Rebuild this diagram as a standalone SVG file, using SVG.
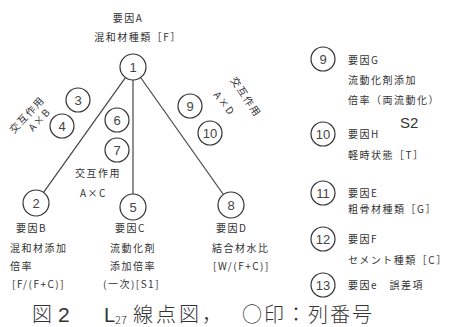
<svg xmlns="http://www.w3.org/2000/svg" width="451" height="327" viewBox="0 0 451 327">
<style>
.n{fill:none;stroke:#333;stroke-width:1.2}
.c{stroke:#444;stroke-width:1.2;fill:none}
.num{font-family:"Liberation Sans",Arial,sans-serif;font-size:13px;fill:#444;text-anchor:middle;dominant-baseline:central}
.t{font-family:"Noto Sans CJK JP","Noto Sans",sans-serif;font-size:10px;fill:#333;letter-spacing:1.5px}
.cap{font-family:"Noto Sans CJK JP","Noto Sans",sans-serif;font-size:20px;fill:#333;font-weight:300}
</style>
<rect width="451" height="327" fill="#fff"/>
<g id="connectors">
<line class="c" x1="125.4" y1="77.6" x2="43.6" y2="192.4"/>
<line class="c" x1="133" y1="80" x2="133" y2="194"/>
<line class="c" x1="140.6" y1="77.5" x2="223.4" y2="194.5"/>
</g>
<g id="n1"><circle class="n" cx="133" cy="67" r="13"/><text class="num" x="133" y="67">1</text>
<text class="t" x="128" y="22" text-anchor="middle">要因A</text>
<text class="t" x="138" y="41" text-anchor="middle">混和材種類［F］</text></g>
<g id="n2"><circle class="n" cx="36" cy="203" r="13"/><text class="num" x="36" y="203">2</text>
<text class="t" x="16" y="232">要因B</text>
<text class="t" x="10" y="252">混和材添加</text>
<text class="t" x="10" y="270">倍率</text>
<text class="t" x="12" y="288">[F/(F+C)]</text></g>
<g id="n3"><circle class="n" cx="78" cy="100" r="12"/><text class="num" x="78" y="100">3</text></g>
<g id="n4"><circle class="n" cx="62" cy="126" r="12"/><text class="num" x="62" y="126">4</text></g>
<g id="n5"><circle class="n" cx="133" cy="207" r="13"/><text class="num" x="133" y="207">5</text>
<text class="t" x="115" y="232">要因C</text>
<text class="t" x="110" y="252">流動化剤</text>
<text class="t" x="110" y="270">添加倍率</text>
<text class="t" x="103" y="288">(一次)[S1]</text></g>
<g id="n6"><circle class="n" cx="117" cy="120" r="12"/><text class="num" x="117" y="120">6</text></g>
<g id="n7"><circle class="n" cx="117" cy="150" r="12"/><text class="num" x="117" y="150">7</text></g>
<g id="n8"><circle class="n" cx="231" cy="205" r="13"/><text class="num" x="231" y="205">8</text>
<text class="t" x="216" y="232">要因D</text>
<text class="t" x="212" y="252">結合材水比</text>
<text class="t" x="213" y="270">[W/(F+C)]</text></g>
<g id="n9"><circle class="n" cx="190" cy="106" r="12"/><text class="num" x="190" y="106">9</text></g>
<g id="n10"><circle class="n" cx="210" cy="133" r="12"/><text class="num" x="210" y="133">10</text></g>
<g id="inter">
<text class="t" transform="translate(14,134) rotate(-47)">交互作用</text>
<text class="t" transform="translate(33,132) rotate(-47)">A×B</text>
<text class="t" x="75" y="177">交互作用</text>
<text class="t" x="80" y="197">A×C</text>
<text class="t" transform="translate(230,80) rotate(56)">交互作用</text>
<text class="t" transform="translate(213,95) rotate(52)">A×D</text>
</g>
<g id="legend">
<g id="l9"><circle class="n" cx="323" cy="59" r="12"/><text class="num" x="323" y="59">9</text>
<text class="t" x="348" y="64">要因G</text>
<text class="t" x="348" y="84">流動化剤添加</text>
<text class="t" x="348" y="104">倍率（両流動化）</text>
<text x="400" y="128" font-family="Liberation Sans,Arial,sans-serif" font-size="15" fill="#333">S2</text></g>
<g id="l10"><circle class="n" cx="323" cy="134" r="12"/><text class="num" x="323" y="134">10</text>
<text class="t" x="348" y="138">要因H</text>
<text class="t" x="348" y="159">軽時状態［T］</text></g>
<g id="l11"><circle class="n" cx="323" cy="193" r="12"/><text class="num" x="323" y="193">11</text>
<text class="t" x="348" y="197">要因E</text>
<text class="t" x="348" y="213">粗骨材種類［G］</text></g>
<g id="l12"><circle class="n" cx="323" cy="239" r="12"/><text class="num" x="323" y="239">12</text>
<text class="t" x="348" y="243">要因F</text>
<text class="t" x="348" y="264">セメント種類［C］</text></g>
<g id="l13"><circle class="n" cx="323" cy="285" r="12"/><text class="num" x="323" y="285">13</text>
<text class="t" x="348" y="289">要因e　誤差項</text></g>
</g>
<g id="caption">
<text class="cap" y="322"><tspan x="32">図</tspan><tspan x="58" font-family="Liberation Sans,Arial,sans-serif" font-size="21">2</tspan><tspan x="104" font-family="Liberation Sans,Arial,sans-serif">L</tspan><tspan x="115" font-size="11" dy="2">27</tspan><tspan x="133" dy="-2" letter-spacing="3">線点図，</tspan><tspan x="242" letter-spacing="2">○印：列番号</tspan></text>
</g>
</svg>
